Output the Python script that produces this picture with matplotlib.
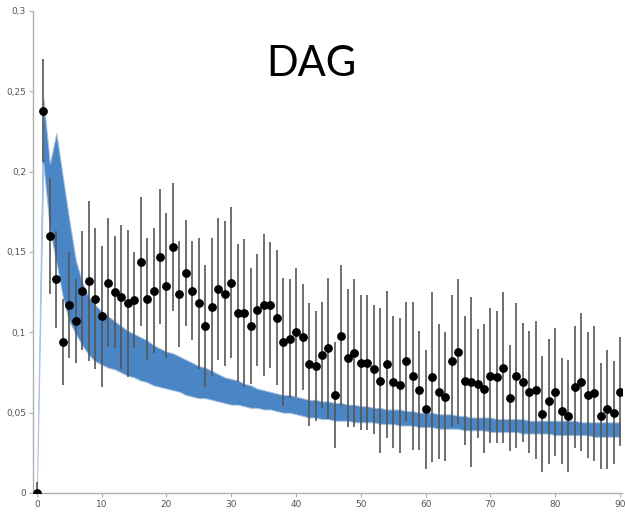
import matplotlib
matplotlib.use("Agg")
import matplotlib.pyplot as plt
from matplotlib.ticker import FixedLocator
import numpy as np

x_vals = list(range(0, 91))

points = [0.000, 0.238, 0.160, 0.133, 0.094, 0.117, 0.107, 0.126, 0.132, 0.121,
          0.110, 0.131, 0.125, 0.122, 0.118, 0.120, 0.144, 0.121, 0.126, 0.147,
          0.129, 0.153, 0.124, 0.137, 0.126, 0.118, 0.104, 0.116, 0.127, 0.124,
          0.131, 0.112, 0.112, 0.104, 0.114, 0.117, 0.117, 0.109, 0.094, 0.096,
          0.100, 0.097, 0.080, 0.079, 0.086, 0.090, 0.061, 0.098, 0.084, 0.087,
          0.081, 0.081, 0.077, 0.070, 0.080, 0.069, 0.067, 0.082, 0.073, 0.064,
          0.052, 0.072, 0.063, 0.060, 0.082, 0.088, 0.070, 0.069, 0.068, 0.065,
          0.073, 0.072, 0.078, 0.059, 0.073, 0.069, 0.063, 0.064, 0.049, 0.057,
          0.063, 0.051, 0.048, 0.066, 0.069, 0.061, 0.062, 0.048, 0.052, 0.050,
          0.063]

errors = [0.007, 0.032, 0.036, 0.030, 0.027, 0.033, 0.026, 0.037, 0.050, 0.044,
          0.044, 0.040, 0.035, 0.045, 0.046, 0.030, 0.040, 0.038, 0.039, 0.042,
          0.045, 0.040, 0.033, 0.033, 0.031, 0.041, 0.038, 0.043, 0.044, 0.045,
          0.047, 0.043, 0.046, 0.036, 0.035, 0.044, 0.039, 0.042, 0.040, 0.037,
          0.040, 0.033, 0.038, 0.034, 0.033, 0.044, 0.033, 0.044, 0.043, 0.046,
          0.042, 0.042, 0.040, 0.045, 0.046, 0.041, 0.042, 0.037, 0.046, 0.037,
          0.037, 0.053, 0.042, 0.040, 0.041, 0.045, 0.040, 0.053, 0.034, 0.040,
          0.042, 0.041, 0.047, 0.033, 0.045, 0.037, 0.038, 0.043, 0.036, 0.039,
          0.040, 0.033, 0.035, 0.038, 0.043, 0.039, 0.042, 0.033, 0.037, 0.032,
          0.034]

band_upper = [0.000, 0.246, 0.205, 0.224, 0.197, 0.170, 0.145, 0.131, 0.122, 0.117,
              0.113, 0.110, 0.107, 0.104, 0.101, 0.099, 0.097, 0.095, 0.092, 0.090,
              0.088, 0.087, 0.085, 0.083, 0.081, 0.079, 0.078, 0.076, 0.074, 0.072,
              0.071, 0.070, 0.068, 0.067, 0.065, 0.064, 0.063, 0.062, 0.061, 0.061,
              0.060, 0.059, 0.058, 0.058, 0.057, 0.057, 0.056, 0.056, 0.055, 0.055,
              0.054, 0.054, 0.053, 0.053, 0.052, 0.052, 0.052, 0.051, 0.051, 0.050,
              0.050, 0.050, 0.049, 0.049, 0.049, 0.048, 0.048, 0.047, 0.047, 0.047,
              0.047, 0.046, 0.046, 0.046, 0.046, 0.046, 0.045, 0.045, 0.045, 0.045,
              0.045, 0.045, 0.045, 0.045, 0.044, 0.044, 0.044, 0.044, 0.044, 0.044,
              0.044]

band_lower = [0.000, 0.205, 0.164, 0.144, 0.122, 0.107, 0.099, 0.092, 0.086, 0.082,
              0.080, 0.078, 0.077, 0.075, 0.073, 0.072, 0.070, 0.069, 0.067, 0.066,
              0.065, 0.064, 0.063, 0.061, 0.060, 0.059, 0.059, 0.058, 0.057, 0.056,
              0.055, 0.055, 0.054, 0.053, 0.053, 0.052, 0.052, 0.051, 0.050, 0.050,
              0.049, 0.048, 0.047, 0.047, 0.046, 0.046, 0.045, 0.045, 0.045, 0.044,
              0.044, 0.044, 0.044, 0.043, 0.043, 0.043, 0.042, 0.042, 0.042, 0.041,
              0.041, 0.041, 0.040, 0.040, 0.040, 0.040, 0.039, 0.039, 0.039, 0.039,
              0.038, 0.038, 0.038, 0.038, 0.038, 0.037, 0.037, 0.037, 0.037, 0.037,
              0.036, 0.036, 0.036, 0.036, 0.036, 0.036, 0.035, 0.035, 0.035, 0.035,
              0.035]

x_ticks = [0, 10, 20, 30, 40, 50, 60, 70, 80, 90]
y_ticks = [0, 0.05, 0.1, 0.15, 0.2, 0.25, 0.3]
y_tick_labels = ["0", "0,05", "0,1", "0,15", "0,2", "0,25", "0,3"]
title = "DAG"

fig = plt.figure(figsize=(6.25, 5.17), dpi=100)
ax = fig.add_axes([33/625, 24/517, 589/625, 482/517])

ax.fill_between(x_vals, band_lower, band_upper, facecolor="#4a86c5",
                edgecolor="#a9c3e0", linewidth=0.7, zorder=1)
ax.errorbar(x_vals, points, yerr=errors, fmt="none", ecolor="#555555",
            elinewidth=1.4, alpha=0.85, capsize=0, zorder=2)
ax.plot(x_vals, points, "o", color="black", markersize=5.3, zorder=3)

ax.set_xlim(-0.6, 90.3)
ax.set_ylim(0, 0.3)
ax.xaxis.set_major_locator(FixedLocator(x_ticks))
ax.yaxis.set_major_locator(FixedLocator(y_ticks))
ax.set_yticklabels(y_tick_labels)
ax.set_xticklabels([str(t) for t in x_ticks])

for s in ["top", "right"]:
    ax.spines[s].set_visible(False)
for s in ["left", "bottom"]:
    ax.spines[s].set_color("#b0b0b0")
    ax.spines[s].set_linewidth(1.0)
ax.tick_params(axis="both", colors="#b0b0b0", labelcolor="#555555",
               labelsize=6.5, length=3, width=0.8, pad=2)

fig.text(311/625, 1 - 64/517, title, ha="center", va="center",
         fontsize=30, family="Lato", color="black")

fig.savefig("out.png", dpi=100, facecolor="white")
